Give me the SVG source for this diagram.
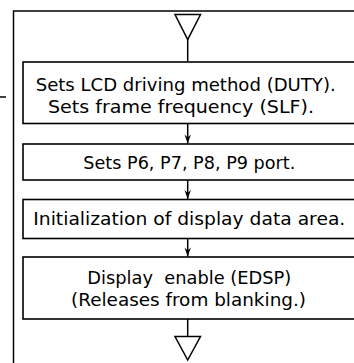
<svg xmlns="http://www.w3.org/2000/svg" width="354" height="363" viewBox="0 0 354 363">
<style>
.box{fill:#fff;stroke:#000;stroke-width:1.6}
.ln{fill:none;stroke:#000;stroke-width:1.5}
.tri{fill:#fff;stroke:#000;stroke-width:1.5;stroke-linejoin:miter}
.t{font-family:"DejaVu Sans","Noto Sans",sans-serif;font-size:18px;fill:#000}
</style>
<defs>
<marker id="ah" markerWidth="12" markerHeight="8" refX="11" refY="4" orient="auto" markerUnits="userSpaceOnUse" viewBox="0 0 12 8">
<path d="M2,0.8 L5,4 L2,7.2 L11,4 Z" fill="#000"/>
</marker>
</defs>
<rect width="354" height="363" fill="#fff"/>
<g id="frame">
<path class="ln" d="M13.5,363 V11 H354"/>
<path class="ln" d="M0,97 H6"/>
</g>
<g id="n1">
<rect class="box" x="23" y="62" width="340" height="61.5"/>
<text class="t" x="35.7" y="91" textLength="300" lengthAdjust="spacingAndGlyphs">Sets LCD driving method (DUTY).</text>
<text class="t" x="48" y="113" textLength="266" lengthAdjust="spacingAndGlyphs">Sets frame frequency (SLF).</text>
</g>
<g id="n2">
<rect class="box" x="23" y="144" width="340" height="36"/>
<text class="t" x="83.3" y="169" textLength="212" lengthAdjust="spacingAndGlyphs">Sets P6, P7, P8, P9 port.</text>
</g>
<g id="n3">
<rect class="box" x="23" y="199.5" width="340" height="39"/>
<text class="t" x="33.3" y="225" textLength="312" lengthAdjust="spacingAndGlyphs">Initialization of display data area.</text>
</g>
<g id="n4">
<rect class="box" x="23" y="257" width="340" height="62"/>
<text class="t" x="87.3" y="284" textLength="204" lengthAdjust="spacingAndGlyphs" xml:space="preserve">Display  enable (EDSP)</text>
<text class="t" x="71" y="306" textLength="235" lengthAdjust="spacingAndGlyphs">(Releases from blanking.)</text>
</g>
<g id="start">
<path class="tri" d="M175,14.5 H200.5 L187.7,39.5 Z"/>
</g>
<g id="end">
<path class="tri" d="M175,336.5 H200.5 L187.7,360 Z"/>
</g>
<g id="connectors">
<path class="ln" d="M187.7,39 V62"/>
<path class="ln" d="M187.7,123.5 V143.5" marker-end="url(#ah)"/>
<path class="ln" d="M187.7,180 V199" marker-end="url(#ah)"/>
<path class="ln" d="M187.7,238.5 V256.5" marker-end="url(#ah)"/>
<path class="ln" d="M187.7,319 V336.5"/>
</g>
</svg>
